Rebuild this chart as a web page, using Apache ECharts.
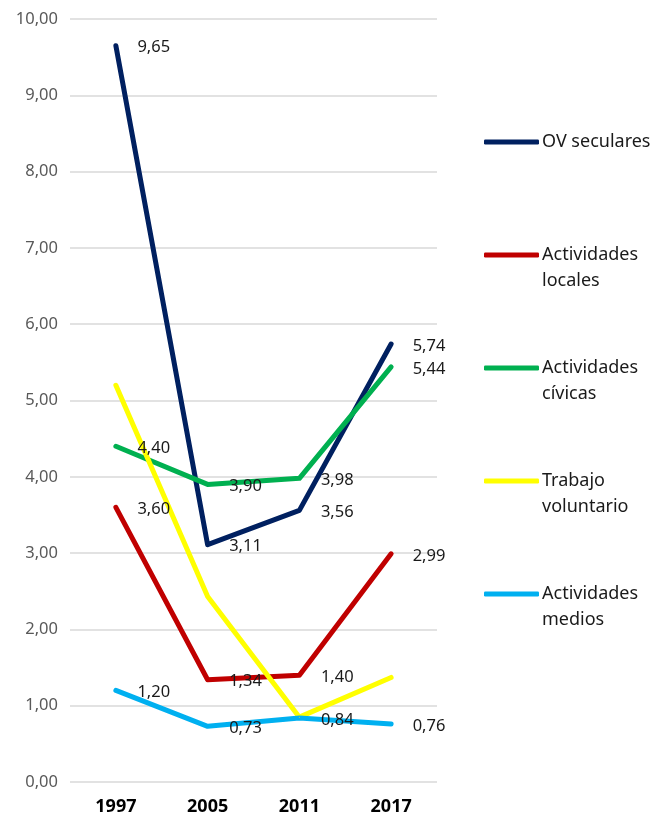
<!DOCTYPE html>
<html>
<head>
<meta charset="utf-8">
<script src="https://cdn.jsdelivr.net/npm/echarts@6/dist/echarts.min.js"></script>
<style>html,body{margin:0;padding:0;background:#fff;}#c{width:655px;height:820px;}</style>
</head>
<body>
<div id="c"></div>
<script>
const categories = ['1997', '2005', '2011', '2017'];
const ovSeculares = [9.65, 3.11, 3.56, 5.74];
const actLocales = [3.60, 1.34, 1.40, 2.99];
const actCivicas = [4.40, 3.90, 3.98, 5.44];
const trabajoVoluntario = [5.20, 2.43, 0.85, 1.37];
const actMedios = [1.20, 0.73, 0.84, 0.76];
const seriesNames = ['OV seculares', 'Actividades locales', 'Actividades cívicas', 'Trabajo voluntario', 'Actividades medios'];
const legendLabels = ['OV seculares', 'Actividades\nlocales', 'Actividades\ncívicas', 'Trabajo\nvoluntario', 'Actividades\nmedios'];
const colors = ['#002060', '#C00000', '#00B050', '#FFFF00', '#00B0F0'];
const showLabels = [true, true, true, false, true];
const allData = [ovSeculares, actLocales, actCivicas, trabajoVoluntario, actMedios];

const fmt = v => v.toFixed(2).replace('.', ',');
const chart = echarts.init(document.getElementById('c'));
const legendCenters = [142, 255, 368, 481, 594];

const legends = seriesNames.map((n, i) => {
  const multi = legendLabels[i].indexOf('\n') >= 0;
  return {
    data: [n],
    orient: 'vertical',
    left: 484,
    top: multi ? legendCenters[i] - 39 : legendCenters[i] - 13,
    icon: 'roundRect',
    itemWidth: 55,
    itemHeight: 5,
    itemGap: 0,
    padding: 0,
    selectedMode: false,
    formatter: () => multi ? '\n' + legendLabels[i] : legendLabels[i],
    textStyle: { fontFamily: 'Noto Sans', fontSize: 18, color: '#1a1a1a', lineHeight: 26, padding: [0, 0, 0, -2] }
  };
});

chart.setOption({
  animation: false,
  backgroundColor: '#fff',
  grid: { left: 70, right: 218, top: 19, bottom: 38 },
  legend: legends,
  xAxis: {
    type: 'category',
    data: categories,
    boundaryGap: true,
    axisLine: { show: false },
    axisTick: { show: false },
    axisLabel: { fontFamily: 'Noto Sans', fontSize: 18, fontWeight: 'bold', color: '#000', margin: 16 }
  },
  yAxis: {
    type: 'value',
    min: 0, max: 10, interval: 1,
    axisLine: { show: false },
    axisTick: { show: false },
    splitLine: { lineStyle: { color: '#d9d9d9', width: 1.5 } },
    axisLabel: { fontFamily: 'Noto Sans', fontSize: 16.5, color: '#595959', margin: 12, formatter: v => fmt(v) }
  },
  series: seriesNames.map((n, i) => ({
    name: n,
    type: 'line',
    data: allData[i],
    color: colors[i],
    symbol: 'circle',
    symbolSize: 1,
    showSymbol: true,
    itemStyle: { color: colors[i] },
    lineStyle: { width: 5, color: colors[i], cap: 'round', join: 'round' },
    label: {
      show: showLabels[i],
      position: 'right',
      distance: 21,
      offset: [0, 2],
      fontFamily: 'Noto Sans',
      fontSize: 16.5,
      color: '#1a1a1a',
      formatter: p => fmt(p.value)
    },
    z: 2
  }))
});
</script>
</body>
</html>
